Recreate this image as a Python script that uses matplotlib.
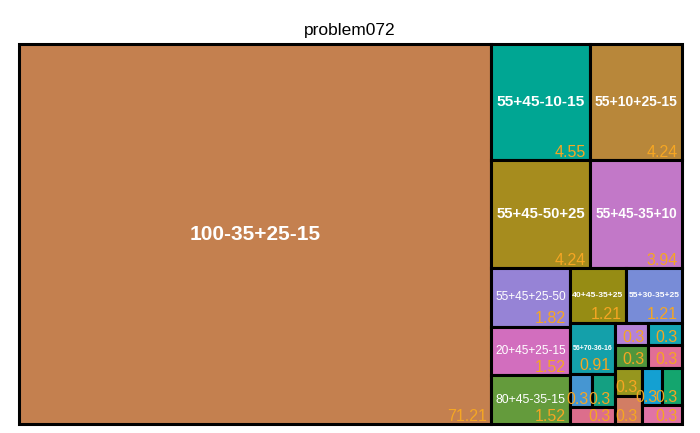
import matplotlib
matplotlib.use("Agg")
import matplotlib.pyplot as plt
from matplotlib.patches import Rectangle

plt.rcParams["font.family"] = ["Liberation Sans", "DejaVu Sans"]

# data, sorted by size (percent of total)
labels = [
    "100-35+25-15", "55+45-10-15", "55+10+25-15", "55+45-50+25",
    "55+45-35+10", "55+45+25-50", "20+45+25-15", "80+45-35-15",
    "40+45-35+25", "55+30-35+25", "56+70-36-16",
    "", "", "", "", "", "", "", "", "", "", "", "",
]
values = [
    71.21, 4.55, 4.24, 4.24, 3.94, 1.82, 1.52, 1.52, 1.21, 1.21, 0.91,
    0.3, 0.3, 0.3, 0.3, 0.3, 0.3, 0.3, 0.3, 0.3, 0.3, 0.3, 0.3,
]
colors = [
    "#C4804F", "#00A693", "#B8873A", "#A68C1E", "#C278C8", "#9683D6",
    "#D26EBE", "#649B3C", "#968C14", "#788CD7", "#14A0AA",
    "#4696D2", "#14A082", "#DC6E8C", "#B482D7", "#14A5B4", "#50963C",
    "#E16E96", "#96961E", "#D27D64", "#14A0D2", "#14A56E", "#E173A5",
]
title = "problem072"


def pivot_layout(vals, x, y, w, h):
    # pivot-by-size treemap: largest item is the pivot, then grow its strip
    # while the pivot gets closer to a square
    if len(vals) == 0:
        return []
    if len(vals) == 1:
        return [(x, y, w, h)]
    total = sum(vals)
    p = vals[0]
    rest = vals[1:]
    wide = w >= h
    best_k, best_r = 0, None
    for k in range(len(rest) + 1):
        strip = p + sum(rest[:k])
        if wide:
            a = w * strip / total
            b = h * p / strip
        else:
            a = h * strip / total
            b = w * p / strip
        r = max(a / b, b / a)
        if best_r is None or r < best_r:
            best_k, best_r = k, r
        else:
            break
    l2 = rest[:best_k]
    l3 = rest[best_k:]
    strip = p + sum(l2)
    boxes = []
    if wide:
        sw = w * strip / total
        ph = h * p / strip
        boxes.append((x, y, sw, ph))
        boxes += pivot_layout(l2, x, y + ph, sw, h - ph)
        boxes += pivot_layout(l3, x + sw, y, w - sw, h)
    else:
        sh = h * strip / total
        pw = w * p / strip
        boxes.append((x, y, pw, sh))
        boxes += pivot_layout(l2, x + pw, y, w - pw, sh)
        boxes += pivot_layout(l3, x, y + sh, w, h - sh)
    return boxes


fig = plt.figure(figsize=(7, 4.33), dpi=100)
left, right, top, bottom = 19, 682, 44, 424
ax = fig.add_axes([left / 700, 1 - bottom / 433, (right - left) / 700, (bottom - top) / 433])
W = right - left
H = bottom - top
ax.set_xlim(0, W)
ax.set_ylim(H, 0)
ax.axis("off")

boxes = pivot_layout(values, 0, 0, W, H)
renderer = fig.canvas.get_renderer()

for (x, y, w, h), lab, val, col in zip(boxes, labels, values, colors):
    ax.add_patch(Rectangle((x, y), w, h, facecolor=col, edgecolor="black",
                           linewidth=2.2, clip_on=False, zorder=1))

for (x, y, w, h), lab, val in zip(boxes, labels, values):
    if lab:
        t = ax.text(x + w / 2, y + h / 2, lab, ha="center", va="center",
                    color="white", fontsize=15, fontweight="bold", zorder=3)
        tw = t.get_window_extent(renderer).width
        size = 15
        if tw > 0.9 * w:
            size = 15 * 0.9 * w / tw
        t.set_fontsize(size)
        if 7 <= size < 9.5:
            t.set_fontweight("normal")
    ax.annotate(f"{val:g}", (x + w, y + h), xytext=(-3, 2.5), textcoords="offset points",
                ha="right", va="baseline", color="#F5A623", fontsize=11.5, zorder=3)

fig.text(0.5, 1 - 35 / 433, title, ha="center", va="baseline", fontsize=12.5)

fig.savefig("out.png", dpi=100)
